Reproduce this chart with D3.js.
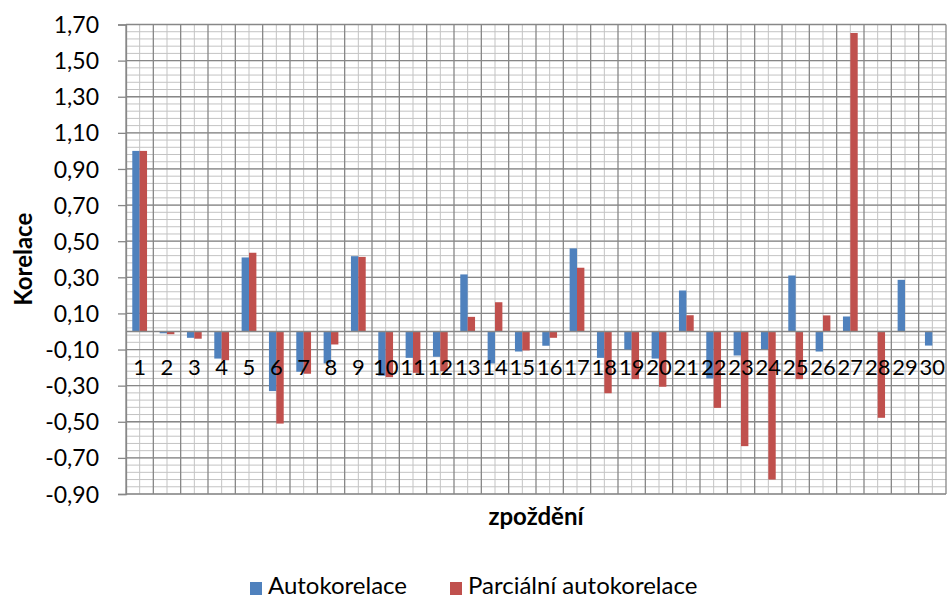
<!DOCTYPE html>
<html>
<head>
<meta charset="utf-8">
<script src="https://cdn.jsdelivr.net/npm/d3@7"></script>
<style>
  body { margin: 0; background: #fff; }
  svg text { font-family: Lato, "Open Sans", sans-serif; fill: #000; }
</style>
</head>
<body>
<div class="chart"></div>
<script>
const lags = d3.range(1, 31).map(String);

const autokorelace = [
  1.0, -0.01, -0.035, -0.15, 0.41, -0.33, -0.223, -0.177, 0.417, -0.245,
  -0.146, -0.14, 0.316, -0.177, -0.111, -0.079, 0.46, -0.146, -0.1, -0.15,
  0.227, -0.26, -0.133, -0.098, 0.31, -0.111, 0.083, 0, 0.286, -0.078,
];

const parcialni = [
  1.0, -0.015, -0.04, -0.159, 0.436, -0.51, -0.234, -0.072, 0.413, -0.253,
  -0.229, -0.22, 0.081, 0.162, -0.105, -0.035, 0.353, -0.342, -0.264, -0.306,
  0.09, -0.423, -0.635, -0.82, -0.264, 0.089, 1.653, -0.478, 0, 0,
];

const yTicks = [-0.9, -0.7, -0.5, -0.3, -0.1, 0.1, 0.3, 0.5, 0.7, 0.9, 1.1, 1.3, 1.5, 1.7];

const seriesNames = ["Autokorelace", "Parciální autokorelace"];
const colors = ["#4f81bd", "#c0504d"];

let width = 949;
let height = 599;
let margin = { top: 24.5, right: 3, bottom: 105, left: 126 };

let svg = d3.select(".chart").append("svg")
  .attr("width", width)
  .attr("height", height);

let xScale = d3.scaleBand()
  .domain(lags)
  .range([margin.left, width - margin.right]);

let yScale = d3.scaleLinear()
  .domain([yTicks[0], yTicks[yTicks.length - 1]])
  .range([height - margin.bottom, margin.top]);

// comma decimal, czech style
const cz = d3.formatLocale({ decimal: ",", thousands: " ", grouping: [3], currency: ["", " Kč"], minus: "-" });
const fmt = cz.format(".2f");

let grid = svg.append("g");
let x0 = margin.left, x1 = width - margin.right;
let y0 = yScale.range()[0], y1 = yScale.range()[1];

// minor grid every 0.04
let minorY = d3.range(0, 66).map((i) => yTicks[0] + i * 0.04);
grid.selectAll(".minor-h").data(minorY).enter().append("line")
  .attr("x1", x0).attr("x2", x1)
  .attr("y1", (d) => yScale(d)).attr("y2", (d) => yScale(d))
  .attr("stroke", "#c3c3c3").attr("stroke-width", 1);

grid.selectAll(".minor-v").data(lags).enter().append("line")
  .attr("x1", (d) => xScale(d) + xScale.bandwidth() / 2)
  .attr("x2", (d) => xScale(d) + xScale.bandwidth() / 2)
  .attr("y1", y0).attr("y2", y1)
  .attr("stroke", "#c3c3c3").attr("stroke-width", 1);

// major grid
grid.selectAll(".major-h").data(yTicks).enter().append("line")
  .attr("x1", x0).attr("x2", x1)
  .attr("y1", (d) => yScale(d)).attr("y2", (d) => yScale(d))
  .attr("stroke", "#878787").attr("stroke-width", 1.3);

grid.selectAll(".major-v").data(lags.concat(["end"])).enter().append("line")
  .attr("x1", (d) => d === "end" ? x1 : xScale(d))
  .attr("x2", (d) => d === "end" ? x1 : xScale(d))
  .attr("y1", y0).attr("y2", y1)
  .attr("stroke", "#878787").attr("stroke-width", 1.3);

// bars
let groupW = xScale.bandwidth() * 0.54;
let barW = groupW / 2;
let rows = lags.map((d, i) => ({ lag: d, values: [autokorelace[i], parcialni[i]] }));

svg.append("g").selectAll("g").data(rows).enter().append("g")
  .selectAll("rect")
  .data((d) => d.values.map((v, k) => ({ lag: d.lag, v: v, k: k })))
  .enter().append("rect")
  .attr("x", (d) => xScale(d.lag) + (xScale.bandwidth() - groupW) / 2 + d.k * barW)
  .attr("width", barW)
  .attr("y", (d) => yScale(Math.max(0, d.v)))
  .attr("height", (d) => Math.abs(yScale(d.v) - yScale(0)))
  .attr("fill", (d) => colors[d.k]);

// zero axis line
svg.append("line")
  .attr("x1", x0).attr("x2", x1)
  .attr("y1", yScale(0)).attr("y2", yScale(0))
  .attr("stroke", "#878787").attr("stroke-width", 1.5);

// y axis
let yAxis = d3.axisLeft(yScale).tickValues(yTicks).tickFormat(fmt).tickSize(8).tickPadding(10);
let yg = svg.append("g").attr("transform", `translate(${margin.left},0)`).call(yAxis);
yg.select(".domain").attr("stroke", "#878787").attr("stroke-width", 1.3);
yg.selectAll(".tick line").attr("stroke", "#878787").attr("stroke-width", 1.3);
yg.selectAll(".tick text").style("font-size", "23px").attr("fill", "#000")
  .attr("x", -27).attr("dy", "0.35em");

// category labels below zero line
svg.append("g").selectAll("text").data(lags).enter().append("text")
  .attr("x", (d) => xScale(d) + xScale.bandwidth() / 2)
  .attr("y", yScale(0) + 44)
  .attr("text-anchor", "middle")
  .style("font-size", "22px")
  .text((d) => d);

// titles
svg.append("text")
  .attr("transform", `translate(32, ${(y0 + y1) / 2}) rotate(-90)`)
  .attr("text-anchor", "middle")
  .style("font-size", "24px").style("font-weight", "bold")
  .text("Korelace");

svg.append("text")
  .attr("x", (x0 + x1) / 2).attr("y", 525)
  .attr("text-anchor", "middle")
  .style("font-size", "24px").style("font-weight", "bold")
  .text("zpoždění");

// legend
let legend = svg.append("g");
let legendX = [250, 450];
seriesNames.forEach((name, i) => {
  legend.append("rect")
    .attr("x", legendX[i]).attr("y", 582)
    .attr("width", 12).attr("height", 13)
    .attr("fill", colors[i]);
  legend.append("text")
    .attr("x", legendX[i] + 18).attr("y", 594)
    .style("font-size", "24px")
    .text(name);
});
</script>
</body>
</html>
